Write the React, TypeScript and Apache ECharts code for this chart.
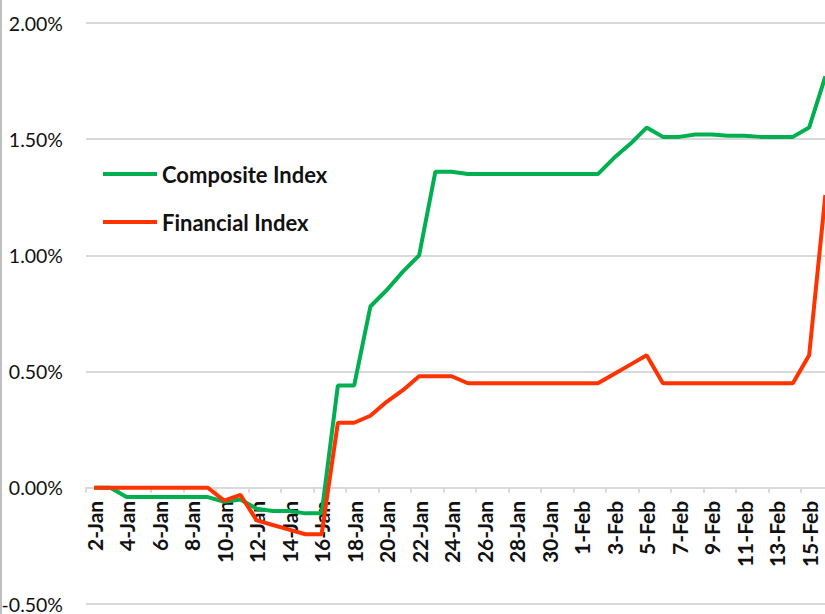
import React, { useEffect, useRef } from "react";
import * as echarts from "echarts";

const dates = [
  "2-Jan", "3-Jan", "4-Jan", "5-Jan", "6-Jan", "7-Jan", "8-Jan", "9-Jan", "10-Jan", "11-Jan",
  "12-Jan", "13-Jan", "14-Jan", "15-Jan", "16-Jan", "17-Jan", "18-Jan", "19-Jan", "20-Jan", "21-Jan",
  "22-Jan", "23-Jan", "24-Jan", "25-Jan", "26-Jan", "27-Jan", "28-Jan", "29-Jan", "30-Jan", "31-Jan",
  "1-Feb", "2-Feb", "3-Feb", "4-Feb", "5-Feb", "6-Feb", "7-Feb", "8-Feb", "9-Feb", "10-Feb",
  "11-Feb", "12-Feb", "13-Feb", "14-Feb", "15-Feb", "16-Feb",
];

const compositeIndex = [
  0, 0, -0.04, -0.04, -0.04, -0.04, -0.04, -0.04, -0.06, -0.05,
  -0.09, -0.1, -0.1, -0.11, -0.11, 0.44, 0.44, 0.78, 0.85, 0.93,
  1.0, 1.36, 1.36, 1.35, 1.35, 1.35, 1.35, 1.35, 1.35, 1.35,
  1.35, 1.35, 1.42, 1.48, 1.55, 1.51, 1.51, 1.52, 1.52, 1.515,
  1.515, 1.51, 1.51, 1.51, 1.55, 1.77,
];

const financialIndex = [
  0, 0, 0, 0, 0, 0, 0, 0, -0.055, -0.03,
  -0.14, -0.16, -0.18, -0.2, -0.2, 0.28, 0.28, 0.31, 0.37, 0.42,
  0.48, 0.48, 0.48, 0.45, 0.45, 0.45, 0.45, 0.45, 0.45, 0.45,
  0.45, 0.45, 0.49, 0.53, 0.57, 0.45, 0.45, 0.45, 0.45, 0.45,
  0.45, 0.45, 0.45, 0.45, 0.57, 1.26,
];

const seriesNames = ["Composite Index", "Financial Index"];
const seriesColors = ["#00b050", "#ff3300"];

const GRID_TOP = 23;
const GRID_BOTTOM = 10;
const CHART_H = 614;
const Y_MIN = -0.5;
const Y_MAX = 2.0;

export default function App() {
  const ref = useRef<HTMLDivElement>(null);

  useEffect(() => {
    if (!ref.current) return;
    const chart = echarts.init(ref.current, null, { renderer: "svg" });
    const font = "Lato, 'Open Sans', sans-serif";
    const gridH = CHART_H - GRID_TOP - GRID_BOTTOM;
    const zeroOffset = (gridH * (0 - Y_MIN)) / (Y_MAX - Y_MIN);
    chart.setOption({
      animation: false,
      backgroundColor: "#ffffff",
      textStyle: { fontFamily: font },
      grid: {
        left: 86,
        right: 6.5,
        top: GRID_TOP,
        bottom: GRID_BOTTOM,
        containLabel: false,
        outerBoundsMode: "none",
      },
      legend: {
        orient: "vertical",
        left: 98,
        top: 157,
        itemGap: 24,
        itemWidth: 54,
        itemHeight: 4,
        icon: "rect",
        data: seriesNames,
        textStyle: {
          fontFamily: font,
          fontSize: 22,
          fontWeight: "bold",
          color: "#111",
          lineHeight: 24,
        },
      },
      xAxis: {
        type: "category",
        data: dates,
        boundaryGap: true,
        position: "bottom",
        offset: -zeroOffset,
        axisLine: { onZero: false, lineStyle: { color: "#d9d9d9", width: 2 } },
        axisTick: { show: true, interval: 1, length: 5, lineStyle: { color: "#d9d9d9", width: 2 } },
        axisLabel: {
          interval: 1,
          rotate: 90,
          margin: 13,
          fontFamily: font,
          fontSize: 21,
          fontWeight: "bold",
          color: "#111",
        },
        splitLine: { show: false },
      },
      yAxis: {
        type: "value",
        min: Y_MIN,
        max: Y_MAX,
        interval: 0.5,
        axisLine: { show: false },
        axisTick: { show: false },
        axisLabel: {
          margin: 23,
          fontFamily: font,
          fontSize: 19.5,
          color: "#111",
          formatter: (v: number) => v.toFixed(2) + "%",
        },
        splitLine: { lineStyle: { color: "#d9d9d9", width: 2 } },
      },
      graphic: [
        {
          type: "line",
          shape: { x1: 1, y1: 0, x2: 1, y2: 614 },
          style: { stroke: "#bfbfbf", lineWidth: 2 },
        },
      ],
      series: [
        {
          name: seriesNames[0],
          type: "line",
          data: compositeIndex,
          showSymbol: false,
          symbol: "none",
          color: seriesColors[0],
          lineStyle: { width: 4, color: seriesColors[0] },
        },
        {
          name: seriesNames[1],
          type: "line",
          data: financialIndex,
          showSymbol: false,
          symbol: "none",
          color: seriesColors[1],
          lineStyle: { width: 4, color: seriesColors[1] },
        },
      ],
    });
    return () => chart.dispose();
  }, []);

  return (
    <div
      style={{
        position: "fixed",
        left: 0,
        top: 0,
        width: 825,
        height: 614,
        overflow: "hidden",
        background: "#fff",
      }}
    >
      <div ref={ref} style={{ width: 840, height: 614 }} />
    </div>
  );
}
